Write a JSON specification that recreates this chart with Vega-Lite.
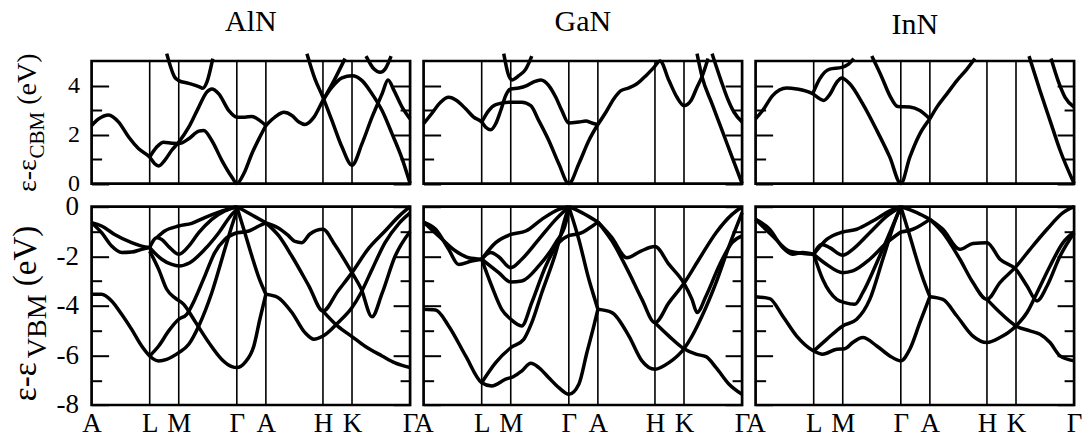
{
"$schema": "https://vega.github.io/schema/vega-lite/v6.json",
"background": "white",
"padding": {"left": 7.6, "top": 6, "right": 5, "bottom": 2},
"config": {
 "view": {"stroke": "black", "strokeWidth": 2.7},
 "axis": {"domain": false, "grid": false, "ticks": true, "tickColor": "black", "tickWidth": 2, "labelFont": "Liberation Serif", "labelColor": "black", "labelFlush": false, "labelOverlap": false, "titleFont": "Liberation Serif", "titleFontWeight": "normal", "titleColor": "black"},
 "title": {"font": "Liberation Serif", "fontSize": 30, "fontWeight": "normal", "color": "black", "anchor": "middle", "frame": "group", "baseline": "alphabetic"},
 "line": {"interpolate": "monotone", "clip": true, "color": "black", "strokeWidth": 3.5},
 "rule": {"color": "black", "strokeWidth": 1.6}
},
"datasets": {
 "sym": [{"x": 58}, {"x": 87}, {"x": 145}, {"x": 174}, {"x": 231}, {"x": 260}],
 "AlN_c": [
  {"b":1,"x":0,"y":2.37},{"b":1,"x":7,"y":2.64},{"b":1,"x":17,"y":2.80},{"b":1,"x":27,"y":2.51},{"b":1,"x":37,"y":1.90},{"b":1,"x":47,"y":1.42},{"b":1,"x":58,"y":1.08},{"b":1,"x":63,"y":0.81},{"b":1,"x":67,"y":0.72},{"b":1,"x":73,"y":0.95},{"b":1,"x":80,"y":1.36},{"b":1,"x":87,"y":1.69},{"b":1,"x":97,"y":2.30},{"b":1,"x":107,"y":3.12},{"b":1,"x":115,"y":3.73},{"b":1,"x":120,"y":3.86},{"b":1,"x":127,"y":3.66},{"b":1,"x":137,"y":2.98},{"b":1,"x":145,"y":2.71},{"b":1,"x":153,"y":2.71},{"b":1,"x":160,"y":2.74},{"b":1,"x":168,"y":2.57},{"b":1,"x":174,"y":2.37},
  {"b":2,"x":58,"y":1.08},{"b":2,"x":65,"y":1.49},{"b":2,"x":72,"y":1.69},{"b":2,"x":80,"y":1.65},{"b":2,"x":87,"y":1.63},{"b":2,"x":97,"y":1.83},{"b":2,"x":107,"y":2.14},{"b":2,"x":112,"y":2.17},{"b":2,"x":120,"y":1.76},{"b":2,"x":130,"y":0.95},{"b":2,"x":140,"y":0.27},{"b":2,"x":145,"y":0},{"b":2,"x":152,"y":0.41},{"b":2,"x":160,"y":1.22},{"b":2,"x":168,"y":1.90},{"b":2,"x":174,"y":2.37},
  {"b":3,"x":75,"y":5.3},{"b":3,"x":83,"y":4.34},{"b":3,"x":87,"y":4.2},{"b":3,"x":97,"y":4.09},{"b":3,"x":107,"y":3.96},{"b":3,"x":111,"y":3.89},{"b":3,"x":115,"y":4.13},{"b":3,"x":121,"y":5.1},
  {"b":4,"x":174,"y":2.37},{"b":4,"x":183,"y":2.71},{"b":4,"x":192,"y":2.91},{"b":4,"x":200,"y":2.78},{"b":4,"x":207,"y":2.51},{"b":4,"x":213,"y":2.41},{"b":4,"x":222,"y":2.71},{"b":4,"x":231,"y":3.39},{"b":4,"x":240,"y":3.93},{"b":4,"x":250,"y":4.31},{"b":4,"x":260,"y":4.40},{"b":4,"x":270,"y":4.20},{"b":4,"x":280,"y":3.66},{"b":4,"x":290,"y":2.98},{"b":4,"x":300,"y":2.03},{"b":4,"x":310,"y":1.02},{"b":4,"x":318,"y":0},
  {"b":5,"x":215,"y":5.3},{"b":5,"x":223,"y":4.27},{"b":5,"x":231,"y":3.52},{"b":5,"x":240,"y":2.57},{"b":5,"x":250,"y":1.49},{"b":5,"x":260,"y":0.75},{"b":5,"x":270,"y":1.63},{"b":5,"x":280,"y":2.71},{"b":5,"x":290,"y":3.66},{"b":5,"x":296,"y":4.23},{"b":5,"x":302,"y":3.79},{"b":5,"x":310,"y":3.12},{"b":5,"x":318,"y":2.64},
  {"b":6,"x":231,"y":3.39},{"b":6,"x":242,"y":4.2},{"b":6,"x":253,"y":5.1},
  {"b":7,"x":274,"y":5.2},{"b":7,"x":282,"y":4.67},{"b":7,"x":288,"y":4.54},{"b":7,"x":293,"y":4.67},{"b":7,"x":299,"y":5.2}
 ],
 "GaN_c": [
  {"b":1,"x":0,"y":2.44},{"b":1,"x":8,"y":2.85},{"b":1,"x":17,"y":3.32},{"b":1,"x":25,"y":3.52},{"b":1,"x":33,"y":3.39},{"b":1,"x":42,"y":3.05},{"b":1,"x":50,"y":2.71},{"b":1,"x":58,"y":2.51},{"b":1,"x":62,"y":2.30},{"b":1,"x":67,"y":2.20},{"b":1,"x":72,"y":2.44},{"b":1,"x":77,"y":2.98},{"b":1,"x":82,"y":3.59},{"b":1,"x":87,"y":3.86},{"b":1,"x":95,"y":3.90},{"b":1,"x":103,"y":4.0},{"b":1,"x":110,"y":4.15},{"b":1,"x":117,"y":4.23},{"b":1,"x":125,"y":4.0},{"b":1,"x":132,"y":3.52},{"b":1,"x":138,"y":2.98},{"b":1,"x":145,"y":2.47},{"b":1,"x":155,"y":2.51},{"b":1,"x":162,"y":2.55},{"b":1,"x":168,"y":2.47},{"b":1,"x":174,"y":2.41},
  {"b":2,"x":58,"y":2.51},{"b":2,"x":65,"y":2.98},{"b":2,"x":72,"y":3.22},{"b":2,"x":85,"y":3.32},{"b":2,"x":98,"y":3.32},{"b":2,"x":107,"y":3.18},{"b":2,"x":115,"y":2.57},{"b":2,"x":125,"y":1.76},{"b":2,"x":135,"y":0.81},{"b":2,"x":145,"y":0},{"b":2,"x":155,"y":0.81},{"b":2,"x":165,"y":1.76},{"b":2,"x":174,"y":2.41},
  {"b":3,"x":80,"y":5.3},{"b":3,"x":85,"y":4.40},{"b":3,"x":88,"y":4.23},{"b":3,"x":95,"y":4.40},{"b":3,"x":102,"y":4.67},{"b":3,"x":108,"y":5.2},
  {"b":4,"x":174,"y":2.41},{"b":4,"x":182,"y":2.91},{"b":4,"x":190,"y":3.46},{"b":4,"x":197,"y":3.79},{"b":4,"x":205,"y":3.90},{"b":4,"x":213,"y":4.07},{"b":4,"x":222,"y":4.40},{"b":4,"x":230,"y":4.74},{"b":4,"x":236,"y":5.0},{"b":4,"x":245,"y":4.20},{"b":4,"x":253,"y":3.52},{"b":4,"x":260,"y":3.18},{"b":4,"x":267,"y":3.39},{"b":4,"x":273,"y":3.93},{"b":4,"x":278,"y":4.36},{"b":4,"x":284,"y":5.1},
  {"b":5,"x":273,"y":5.3},{"b":5,"x":278,"y":4.36},{"b":5,"x":288,"y":3.25},{"b":5,"x":298,"y":2.17},{"b":5,"x":308,"y":1.08},{"b":5,"x":318,"y":0},
  {"b":6,"x":288,"y":5.3},{"b":6,"x":297,"y":4.20},{"b":6,"x":303,"y":3.52},{"b":6,"x":310,"y":2.91},{"b":6,"x":318,"y":2.51}
 ],
 "InN_c": [
  {"b":1,"x":0,"y":2.64},{"b":1,"x":7,"y":2.98},{"b":1,"x":17,"y":3.59},{"b":1,"x":31,"y":3.90},{"b":1,"x":41,"y":3.86},{"b":1,"x":57,"y":3.66},{"b":1,"x":64,"y":3.46},{"b":1,"x":68,"y":3.39},{"b":1,"x":74,"y":3.63},{"b":1,"x":81,"y":4.13},{"b":1,"x":86,"y":4.31},{"b":1,"x":94,"y":4.07},{"b":1,"x":107,"y":3.25},{"b":1,"x":121,"y":2.17},{"b":1,"x":134,"y":1.08},{"b":1,"x":145,"y":0},{"b":1,"x":154,"y":1.08},{"b":1,"x":164,"y":2.03},{"b":1,"x":174,"y":2.64},
  {"b":2,"x":57,"y":3.66},{"b":2,"x":64,"y":4.27},{"b":2,"x":74,"y":4.67},{"b":2,"x":86,"y":4.74},{"b":2,"x":92,"y":4.85},{"b":2,"x":98,"y":5.1},
  {"b":3,"x":116,"y":5.2},{"b":3,"x":126,"y":4.34},{"b":3,"x":134,"y":3.59},{"b":3,"x":142,"y":3.14},{"b":3,"x":154,"y":3.12},{"b":3,"x":164,"y":2.98},{"b":3,"x":174,"y":2.64},
  {"b":4,"x":174,"y":2.64},{"b":4,"x":181,"y":3.12},{"b":4,"x":191,"y":3.66},{"b":4,"x":201,"y":4.20},{"b":4,"x":211,"y":4.67},{"b":4,"x":219,"y":5.1},
  {"b":5,"x":273,"y":5.2},{"b":5,"x":284,"y":3.79},{"b":5,"x":294,"y":2.57},{"b":5,"x":304,"y":1.36},{"b":5,"x":318,"y":0},
  {"b":6,"x":295,"y":5.1},{"b":6,"x":302,"y":4.20},{"b":6,"x":309,"y":3.52},{"b":6,"x":318,"y":3.12}
 ],
 "AlN_v": [
  {"b":1,"x":0,"y":-3.53},{"b":1,"x":10,"y":-3.53},{"b":1,"x":20,"y":-3.80},{"b":1,"x":30,"y":-4.34},{"b":1,"x":40,"y":-4.95},{"b":1,"x":50,"y":-5.62},{"b":1,"x":58,"y":-6.02},{"b":1,"x":67,"y":-6.22},{"b":1,"x":75,"y":-6.16},{"b":1,"x":87,"y":-5.89},{"b":1,"x":97,"y":-5.55},{"b":1,"x":107,"y":-4.81},{"b":1,"x":120,"y":-3.47},{"b":1,"x":133,"y":-1.72},{"b":1,"x":140,"y":-0.78},{"b":1,"x":145,"y":-0.17},
  {"b":2,"x":58,"y":-6.02},{"b":2,"x":67,"y":-5.62},{"b":2,"x":77,"y":-5.01},{"b":2,"x":87,"y":-4.54},{"b":2,"x":95,"y":-4.34},{"b":2,"x":103,"y":-3.74},{"b":2,"x":113,"y":-2.80},{"b":2,"x":123,"y":-1.85},{"b":2,"x":133,"y":-1.32},{"b":2,"x":145,"y":-1.05},
  {"b":3,"x":58,"y":-1.79},{"b":3,"x":67,"y":-2.53},{"b":3,"x":75,"y":-3.33},{"b":3,"x":83,"y":-3.67},{"b":3,"x":92,"y":-3.94},{"b":3,"x":103,"y":-4.61},{"b":3,"x":117,"y":-5.48},{"b":3,"x":130,"y":-6.16},{"b":3,"x":140,"y":-6.45},{"b":3,"x":145,"y":-6.49},{"b":3,"x":153,"y":-6.29},{"b":3,"x":162,"y":-5.62},{"b":3,"x":168,"y":-4.54},{"b":3,"x":174,"y":-3.53},
  {"b":4,"x":58,"y":-1.65},{"b":4,"x":65,"y":-1.25},{"b":4,"x":70,"y":-1.32},{"b":4,"x":78,"y":-1.65},{"b":4,"x":87,"y":-1.92},{"b":4,"x":97,"y":-1.59},{"b":4,"x":107,"y":-1.05},{"b":4,"x":120,"y":-0.51},{"b":4,"x":133,"y":-0.17},{"b":4,"x":145,"y":0},
  {"b":5,"x":65,"y":-1.25},{"b":5,"x":73,"y":-0.98},{"b":5,"x":87,"y":-0.78},{"b":5,"x":100,"y":-0.67},{"b":5,"x":113,"y":-0.44},{"b":5,"x":127,"y":-0.22},{"b":5,"x":145,"y":0},
  {"b":6,"x":58,"y":-1.65},{"b":6,"x":70,"y":-2.12},{"b":6,"x":80,"y":-2.33},{"b":6,"x":87,"y":-2.39},{"b":6,"x":98,"y":-2.26},{"b":6,"x":113,"y":-1.72},{"b":6,"x":127,"y":-1.05},{"b":6,"x":140,"y":-0.31},{"b":6,"x":145,"y":-0.11},
  {"b":7,"x":0,"y":-0.65},{"b":7,"x":10,"y":-0.78},{"b":7,"x":23,"y":-1.12},{"b":7,"x":40,"y":-1.45},{"b":7,"x":50,"y":-1.59},{"b":7,"x":58,"y":-1.65},
  {"b":8,"x":0,"y":-0.65},{"b":8,"x":10,"y":-1.05},{"b":8,"x":20,"y":-1.59},{"b":8,"x":30,"y":-1.85},{"b":8,"x":40,"y":-1.83},{"b":8,"x":50,"y":-1.72},{"b":8,"x":58,"y":-1.65},
  {"b":9,"x":145,"y":0},{"b":9,"x":153,"y":-1.05},{"b":9,"x":160,"y":-1.99},{"b":9,"x":167,"y":-2.86},{"b":9,"x":174,"y":-3.53},
  {"b":10,"x":145,"y":0},{"b":10,"x":153,"y":-0.17},{"b":10,"x":163,"y":-0.40},{"b":10,"x":174,"y":-0.65},
  {"b":11,"x":145,"y":-1.05},{"b":11,"x":157,"y":-0.98},{"b":11,"x":167,"y":-0.78},{"b":11,"x":174,"y":-0.65},
  {"b":12,"x":174,"y":-0.65},{"b":12,"x":186,"y":-0.85},{"b":12,"x":196,"y":-1.15},{"b":12,"x":203,"y":-1.40},{"b":12,"x":210,"y":-1.45},{"b":12,"x":218,"y":-1.10},{"b":12,"x":231,"y":-0.91},{"b":12,"x":243,"y":-1.55},{"b":12,"x":260,"y":-2.66},{"b":12,"x":269,"y":-3.30},{"b":12,"x":280,"y":-4.44},{"b":12,"x":290,"y":-3.50},{"b":12,"x":303,"y":-2.0},{"b":12,"x":318,"y":-1.0},
  {"b":13,"x":174,"y":-0.65},{"b":13,"x":187,"y":-1.18},{"b":13,"x":200,"y":-2.0},{"b":13,"x":217,"y":-3.2},{"b":13,"x":231,"y":-4.21},{"b":13,"x":246,"y":-3.4},{"b":13,"x":260,"y":-2.66},{"b":13,"x":276,"y":-1.71},{"b":13,"x":293,"y":-0.98},{"b":13,"x":307,"y":-0.38},{"b":13,"x":318,"y":0},
  {"b":14,"x":231,"y":-4.21},{"b":14,"x":246,"y":-4.83},{"b":14,"x":260,"y":-5.24},{"b":14,"x":273,"y":-5.63},{"b":14,"x":290,"y":-6.02},{"b":14,"x":303,"y":-6.30},{"b":14,"x":318,"y":-6.49},
  {"b":15,"x":174,"y":-3.53},{"b":15,"x":186,"y":-3.66},{"b":15,"x":200,"y":-4.27},{"b":15,"x":213,"y":-5.08},{"b":15,"x":222,"y":-5.35},{"b":15,"x":231,"y":-5.22},{"b":15,"x":246,"y":-4.68},{"b":15,"x":260,"y":-4.07},{"b":15,"x":269,"y":-3.47},{"b":15,"x":280,"y":-2.53},{"b":15,"x":293,"y":-1.45},{"b":15,"x":307,"y":-0.67},{"b":15,"x":318,"y":-0.25}
 ],
 "GaN_v": [
  {"b":1,"x":0,"y":-4.14},{"b":1,"x":12,"y":-4.17},{"b":1,"x":25,"y":-4.81},{"b":1,"x":42,"y":-6.02},{"b":1,"x":58,"y":-7.10},{"b":1,"x":68,"y":-7.23},{"b":1,"x":82,"y":-6.96},{"b":1,"x":90,"y":-6.85},{"b":1,"x":98,"y":-6.63},{"b":1,"x":107,"y":-6.32},{"b":1,"x":115,"y":-6.49},{"b":1,"x":125,"y":-6.90},{"b":1,"x":135,"y":-7.30},{"b":1,"x":145,"y":-7.57},{"b":1,"x":155,"y":-7.16},{"b":1,"x":163,"y":-5.89},{"b":1,"x":170,"y":-4.81},{"b":1,"x":174,"y":-4.14},
  {"b":2,"x":58,"y":-7.10},{"b":2,"x":72,"y":-6.29},{"b":2,"x":87,"y":-5.69},{"b":2,"x":100,"y":-5.35},{"b":2,"x":108,"y":-4.68},{"b":2,"x":118,"y":-3.47},{"b":2,"x":132,"y":-1.85},{"b":2,"x":142,"y":-0.38},{"b":2,"x":145,"y":0},
  {"b":3,"x":58,"y":-2.12},{"b":3,"x":68,"y":-3.20},{"b":3,"x":78,"y":-4.14},{"b":3,"x":87,"y":-4.54},{"b":3,"x":98,"y":-4.81},{"b":3,"x":108,"y":-3.87},{"b":3,"x":122,"y":-2.39},{"b":3,"x":135,"y":-1.45},{"b":3,"x":145,"y":-1.16},
  {"b":4,"x":58,"y":-2.12},{"b":4,"x":75,"y":-2.66},{"b":4,"x":87,"y":-3.04},{"b":4,"x":98,"y":-3.0},{"b":4,"x":115,"y":-2.39},{"b":4,"x":132,"y":-1.45},{"b":4,"x":142,"y":-0.65},{"b":4,"x":145,"y":-0.11},
  {"b":5,"x":58,"y":-2.12},{"b":5,"x":67,"y":-1.85},{"b":5,"x":75,"y":-2.02},{"b":5,"x":87,"y":-2.46},{"b":5,"x":98,"y":-2.12},{"b":5,"x":115,"y":-1.32},{"b":5,"x":132,"y":-0.51},{"b":5,"x":145,"y":0},
  {"b":6,"x":58,"y":-2.12},{"b":6,"x":72,"y":-1.45},{"b":6,"x":87,"y":-1.12},{"b":6,"x":102,"y":-0.98},{"b":6,"x":118,"y":-0.51},{"b":6,"x":135,"y":-0.11},{"b":6,"x":145,"y":0},
  {"b":7,"x":0,"y":-0.62},{"b":7,"x":12,"y":-0.91},{"b":7,"x":25,"y":-1.72},{"b":7,"x":35,"y":-2.33},{"b":7,"x":48,"y":-2.19},{"b":7,"x":58,"y":-2.12},
  {"b":8,"x":0,"y":-0.62},{"b":8,"x":15,"y":-1.18},{"b":8,"x":32,"y":-1.79},{"b":8,"x":45,"y":-2.06},{"b":8,"x":58,"y":-2.12},
  {"b":9,"x":145,"y":0},{"b":9,"x":155,"y":-1.32},{"b":9,"x":165,"y":-2.93},{"b":9,"x":172,"y":-3.87},{"b":9,"x":174,"y":-4.14},
  {"b":10,"x":145,"y":0},{"b":10,"x":158,"y":-0.24},{"b":10,"x":174,"y":-0.62},
  {"b":11,"x":145,"y":-1.16},{"b":11,"x":158,"y":-1.05},{"b":11,"x":166,"y":-0.85},{"b":11,"x":174,"y":-0.62},
  {"b":12,"x":174,"y":-0.62},{"b":12,"x":188,"y":-1.25},{"b":12,"x":203,"y":-2.06},{"b":12,"x":217,"y":-1.79},{"b":12,"x":231,"y":-1.61},{"b":12,"x":245,"y":-2.33},{"b":12,"x":260,"y":-3.09},{"b":12,"x":268,"y":-3.74},{"b":12,"x":273,"y":-4.27},{"b":12,"x":282,"y":-3.60},{"b":12,"x":295,"y":-2.39},{"b":12,"x":308,"y":-1.45},{"b":12,"x":318,"y":-1.18},
  {"b":13,"x":174,"y":-0.62},{"b":13,"x":188,"y":-1.38},{"b":13,"x":205,"y":-2.66},{"b":13,"x":218,"y":-3.74},{"b":13,"x":231,"y":-4.68},{"b":13,"x":245,"y":-3.87},{"b":13,"x":260,"y":-3.09},{"b":13,"x":275,"y":-2.12},{"b":13,"x":292,"y":-1.05},{"b":13,"x":308,"y":-0.31},{"b":13,"x":318,"y":0},
  {"b":14,"x":231,"y":-4.68},{"b":14,"x":245,"y":-5.22},{"b":14,"x":260,"y":-5.73},{"b":14,"x":272,"y":-5.95},{"b":14,"x":282,"y":-6.05},{"b":14,"x":292,"y":-6.49},{"b":14,"x":305,"y":-7.16},{"b":14,"x":318,"y":-7.57},
  {"b":15,"x":174,"y":-4.14},{"b":15,"x":188,"y":-4.27},{"b":15,"x":205,"y":-5.22},{"b":15,"x":218,"y":-6.22},{"b":15,"x":231,"y":-6.56},{"b":15,"x":245,"y":-6.29},{"b":15,"x":260,"y":-5.73},{"b":15,"x":268,"y":-5.22},{"b":15,"x":278,"y":-4.41},{"b":15,"x":292,"y":-3.06},{"b":15,"x":305,"y":-1.59},{"b":15,"x":318,"y":-0.24}
 ],
 "InN_v": [
  {"b":1,"x":0,"y":-3.63},{"b":1,"x":14,"y":-3.71},{"b":1,"x":27,"y":-4.41},{"b":1,"x":41,"y":-5.22},{"b":1,"x":58,"y":-5.82},{"b":1,"x":67,"y":-5.95},{"b":1,"x":81,"y":-5.75},{"b":1,"x":89,"y":-5.73},{"b":1,"x":97,"y":-5.48},{"b":1,"x":107,"y":-5.28},{"b":1,"x":121,"y":-5.62},{"b":1,"x":134,"y":-6.02},{"b":1,"x":145,"y":-6.22},{"b":1,"x":154,"y":-5.75},{"b":1,"x":164,"y":-4.68},{"b":1,"x":174,"y":-3.63},
  {"b":2,"x":58,"y":-5.82},{"b":2,"x":71,"y":-5.35},{"b":2,"x":87,"y":-4.81},{"b":2,"x":101,"y":-4.54},{"b":2,"x":114,"y":-3.74},{"b":2,"x":127,"y":-2.12},{"b":2,"x":141,"y":-0.38},{"b":2,"x":145,"y":0},
  {"b":3,"x":58,"y":-1.92},{"b":3,"x":67,"y":-2.93},{"b":3,"x":81,"y":-3.74},{"b":3,"x":89,"y":-3.87},{"b":3,"x":99,"y":-3.94},{"b":3,"x":107,"y":-3.47},{"b":3,"x":121,"y":-2.26},{"b":3,"x":134,"y":-1.05},{"b":3,"x":145,"y":0},
  {"b":4,"x":58,"y":-1.92},{"b":4,"x":71,"y":-2.33},{"b":4,"x":87,"y":-2.66},{"b":4,"x":97,"y":-2.59},{"b":4,"x":114,"y":-2.12},{"b":4,"x":131,"y":-1.45},{"b":4,"x":145,"y":-1.02},
  {"b":5,"x":58,"y":-1.92},{"b":5,"x":66,"y":-1.52},{"b":5,"x":74,"y":-1.65},{"b":5,"x":87,"y":-1.96},{"b":5,"x":97,"y":-1.72},{"b":5,"x":114,"y":-1.05},{"b":5,"x":131,"y":-0.38},{"b":5,"x":145,"y":0},
  {"b":6,"x":58,"y":-1.92},{"b":6,"x":71,"y":-1.32},{"b":6,"x":87,"y":-1.02},{"b":6,"x":101,"y":-0.91},{"b":6,"x":117,"y":-0.58},{"b":6,"x":134,"y":-0.17},{"b":6,"x":145,"y":0},
  {"b":7,"x":0,"y":-0.51},{"b":7,"x":14,"y":-0.91},{"b":7,"x":27,"y":-1.65},{"b":7,"x":37,"y":-1.92},{"b":7,"x":47,"y":-1.85},{"b":7,"x":58,"y":-1.92},
  {"b":8,"x":0,"y":-0.51},{"b":8,"x":17,"y":-1.18},{"b":8,"x":34,"y":-1.79},{"b":8,"x":58,"y":-1.92},
  {"b":9,"x":145,"y":0},{"b":9,"x":154,"y":-1.18},{"b":9,"x":164,"y":-2.53},{"b":9,"x":171,"y":-3.33},{"b":9,"x":174,"y":-3.63},
  {"b":10,"x":145,"y":0},{"b":10,"x":161,"y":-0.24},{"b":10,"x":174,"y":-0.51},
  {"b":11,"x":145,"y":-1.02},{"b":11,"x":157,"y":-0.91},{"b":11,"x":174,"y":-0.51},
  {"b":12,"x":174,"y":-0.51},{"b":12,"x":187,"y":-0.91},{"b":12,"x":204,"y":-1.72},{"b":12,"x":217,"y":-1.48},{"b":12,"x":231,"y":-1.45},{"b":12,"x":244,"y":-2.12},{"b":12,"x":260,"y":-2.53},{"b":12,"x":271,"y":-3.20},{"b":12,"x":281,"y":-3.80},{"b":12,"x":291,"y":-3.20},{"b":12,"x":304,"y":-1.99},{"b":12,"x":318,"y":-1.05},
  {"b":13,"x":174,"y":-0.51},{"b":13,"x":187,"y":-1.05},{"b":13,"x":204,"y":-2.12},{"b":13,"x":217,"y":-3.06},{"b":13,"x":231,"y":-3.74},{"b":13,"x":244,"y":-3.06},{"b":13,"x":260,"y":-2.42},{"b":13,"x":274,"y":-1.72},{"b":13,"x":291,"y":-0.91},{"b":13,"x":307,"y":-0.24},{"b":13,"x":318,"y":0},
  {"b":14,"x":231,"y":-3.74},{"b":14,"x":244,"y":-4.27},{"b":14,"x":260,"y":-4.81},{"b":14,"x":274,"y":-5.01},{"b":14,"x":284,"y":-5.15},{"b":14,"x":294,"y":-5.48},{"b":14,"x":304,"y":-6.02},{"b":14,"x":318,"y":-6.22},
  {"b":15,"x":174,"y":-3.63},{"b":15,"x":187,"y":-3.74},{"b":15,"x":201,"y":-4.41},{"b":15,"x":217,"y":-5.22},{"b":15,"x":231,"y":-5.48},{"b":15,"x":244,"y":-5.28},{"b":15,"x":260,"y":-4.81},{"b":15,"x":271,"y":-4.27},{"b":15,"x":281,"y":-3.47},{"b":15,"x":294,"y":-2.39},{"b":15,"x":307,"y":-1.45},{"b":15,"x":318,"y":-1.02}
 ]
},
"spacing": -6.3,
"vconcat": [
 {"hconcat": [
  {"width": 318.5, "height": 122.6, "title": {"text": "AlN", "offset": 9.2},
   "encoding": {"x": {"field": "x", "type": "quantitative", "scale": {"domain": [0, 318], "nice": false, "zero": false}, "axis": null}},
   "layer": [
    {"data": {"name": "AlN_c"}, "transform": [{"filter": "datum.b % 2 == 1"}], "mark": "line", "encoding": {"y": {"field": "y", "type": "quantitative", "scale": {"domain": [0, 5], "nice": false}, "axis": {"orient": "left", "values": [0, 2, 4], "tickSize": -17, "labelFontSize": 24, "labelPadding": 29, "title": "ε-ε", "titleFontSize": 28, "titleAngle": 270, "titleAlign": "left", "titleBaseline": "alphabetic", "titleX": -56, "titleY": 130.5}}, "detail": {"field": "b", "type": "nominal"}}},
    {"data": {"name": "sym"}, "transform": [{"filter": "datum.x < 150"}], "mark": "rule", "encoding": {"y": {"datum": 0, "type": "quantitative", "scale": {"domain": [0, 5], "nice": false}, "axis": {"orient": "left", "values": [1, 3], "tickSize": -10, "labels": false, "title": "CBM", "titleFontSize": 21, "titleAngle": 270, "titleAlign": "left", "titleBaseline": "alphabetic", "titleX": -48, "titleY": 96.9}}, "y2": {"datum": 5}}},
    {"data": {"name": "AlN_c"}, "transform": [{"filter": "datum.b % 2 == 0"}], "mark": "line", "encoding": {"y": {"field": "y", "type": "quantitative", "scale": {"domain": [0, 5], "nice": false}, "axis": {"orient": "right", "values": [0, 2, 4], "tickSize": -17, "labels": false, "title": "(eV)", "titleFontSize": 28, "titleAngle": 270, "titleAlign": "left", "titleBaseline": "alphabetic", "titleX": -374.8, "titleY": 43.3}}, "detail": {"field": "b", "type": "nominal"}}},
    {"data": {"name": "sym"}, "transform": [{"filter": "datum.x > 150"}], "mark": "rule", "encoding": {"y": {"datum": 0, "type": "quantitative", "scale": {"domain": [0, 5], "nice": false}, "axis": {"orient": "right", "values": [1, 3], "tickSize": -10, "labels": false, "title": null}}, "y2": {"datum": 5}}}
   ],
   "resolve": {"axis": {"y": "independent"}}
  },
  {"width": 318.5, "height": 122.6, "title": {"text": "GaN", "offset": 9.2},
   "encoding": {"x": {"field": "x", "type": "quantitative", "scale": {"domain": [0, 318], "nice": false, "zero": false}, "axis": null}},
   "layer": [
    {"data": {"name": "GaN_c"}, "transform": [{"filter": "datum.b % 2 == 1"}], "mark": "line", "encoding": {"y": {"field": "y", "type": "quantitative", "scale": {"domain": [0, 5], "nice": false}, "axis": {"orient": "left", "values": [0, 2, 4], "tickSize": -17, "labels": false, "title": null}}, "detail": {"field": "b", "type": "nominal"}}},
    {"data": {"name": "sym"}, "transform": [{"filter": "datum.x < 150"}], "mark": "rule", "encoding": {"y": {"datum": 0, "type": "quantitative", "scale": {"domain": [0, 5], "nice": false}, "axis": {"orient": "left", "values": [1, 3], "tickSize": -10, "labels": false, "title": null}}, "y2": {"datum": 5}}},
    {"data": {"name": "GaN_c"}, "transform": [{"filter": "datum.b % 2 == 0"}], "mark": "line", "encoding": {"y": {"field": "y", "type": "quantitative", "scale": {"domain": [0, 5], "nice": false}, "axis": {"orient": "right", "values": [0, 2, 4], "tickSize": -17, "labels": false, "title": null}}, "detail": {"field": "b", "type": "nominal"}}},
    {"data": {"name": "sym"}, "transform": [{"filter": "datum.x > 150"}], "mark": "rule", "encoding": {"y": {"datum": 0, "type": "quantitative", "scale": {"domain": [0, 5], "nice": false}, "axis": {"orient": "right", "values": [1, 3], "tickSize": -10, "labels": false, "title": null}}, "y2": {"datum": 5}}}
   ],
   "resolve": {"axis": {"y": "independent"}}
  },
  {"width": 318.5, "height": 122.6, "title": {"text": "InN", "offset": 9.2},
   "encoding": {"x": {"field": "x", "type": "quantitative", "scale": {"domain": [0, 318], "nice": false, "zero": false}, "axis": null}},
   "layer": [
    {"data": {"name": "InN_c"}, "transform": [{"filter": "datum.b % 2 == 1"}], "mark": "line", "encoding": {"y": {"field": "y", "type": "quantitative", "scale": {"domain": [0, 5], "nice": false}, "axis": {"orient": "left", "values": [0, 2, 4], "tickSize": -17, "labels": false, "title": null}}, "detail": {"field": "b", "type": "nominal"}}},
    {"data": {"name": "sym"}, "transform": [{"filter": "datum.x < 150"}], "mark": "rule", "encoding": {"y": {"datum": 0, "type": "quantitative", "scale": {"domain": [0, 5], "nice": false}, "axis": {"orient": "left", "values": [1, 3], "tickSize": -10, "labels": false, "title": null}}, "y2": {"datum": 5}}},
    {"data": {"name": "InN_c"}, "transform": [{"filter": "datum.b % 2 == 0"}], "mark": "line", "encoding": {"y": {"field": "y", "type": "quantitative", "scale": {"domain": [0, 5], "nice": false}, "axis": {"orient": "right", "values": [0, 2, 4], "tickSize": -17, "labels": false, "title": null}}, "detail": {"field": "b", "type": "nominal"}}},
    {"data": {"name": "sym"}, "transform": [{"filter": "datum.x > 150"}], "mark": "rule", "encoding": {"y": {"datum": 0, "type": "quantitative", "scale": {"domain": [0, 5], "nice": false}, "axis": {"orient": "right", "values": [1, 3], "tickSize": -10, "labels": false, "title": null}}, "y2": {"datum": 5}}}
   ],
   "resolve": {"axis": {"y": "independent"}}
  }
 ], "spacing": 13, "bounds": "flush"},
 {"hconcat": [
  {"width": 318.5, "height": 198.3,
   "encoding": {"x": {"field": "x", "type": "quantitative", "scale": {"domain": [0, 318], "nice": false, "zero": false}, "axis": {"orient": "bottom", "values": [0, 58, 87, 145, 174, 231, 260, 318], "labelExpr": "datum.value == 0 ? 'A' : datum.value == 58 ? 'L' : datum.value == 87 ? 'M' : datum.value == 145 ? 'Γ' : datum.value == 174 ? 'A' : datum.value == 231 ? 'H' : datum.value == 260 ? 'K' : 'Γ'", "ticks": false, "labelFontSize": 27, "labelPadding": 6, "labelAngle": 0, "title": null}}},
   "layer": [
    {"data": {"name": "AlN_v"}, "transform": [{"filter": "datum.b % 2 == 1"}], "mark": "line", "encoding": {"y": {"field": "y", "type": "quantitative", "scale": {"domain": [-8, 0], "nice": false}, "axis": {"orient": "left", "values": [-8, -6, -4, -2, 0], "labelExpr": "datum.value < 0 ? '-' + (-datum.value) : '0'", "tickSize": -17, "labelFontSize": 27, "labelPadding": 30, "title": "ε-ε", "titleFontSize": 33, "titleAngle": 270, "titleAlign": "left", "titleBaseline": "alphabetic", "titleX": -56, "titleY": 194}}, "detail": {"field": "b", "type": "nominal"}}},
    {"data": {"name": "sym"}, "transform": [{"filter": "datum.x < 150"}], "mark": "rule", "encoding": {"y": {"datum": -8, "type": "quantitative", "scale": {"domain": [-8, 0], "nice": false}, "axis": {"orient": "left", "values": [-7, -5, -3, -1], "tickSize": -10, "labels": false, "title": "VBM", "titleFontSize": 28, "titleAngle": 270, "titleAlign": "left", "titleBaseline": "alphabetic", "titleX": -46.5, "titleY": 151}}, "y2": {"datum": 0}}},
    {"data": {"name": "AlN_v"}, "transform": [{"filter": "datum.b % 2 == 0"}], "mark": "line", "encoding": {"y": {"field": "y", "type": "quantitative", "scale": {"domain": [-8, 0], "nice": false}, "axis": {"orient": "right", "values": [-8, -6, -4, -2, 0], "tickSize": -17, "labels": false, "title": "(eV)", "titleFontSize": 33, "titleAngle": 270, "titleAlign": "left", "titleBaseline": "alphabetic", "titleX": -374.8, "titleY": 79}}, "detail": {"field": "b", "type": "nominal"}}},
    {"data": {"name": "sym"}, "transform": [{"filter": "datum.x > 150"}], "mark": "rule", "encoding": {"y": {"datum": -8, "type": "quantitative", "scale": {"domain": [-8, 0], "nice": false}, "axis": {"orient": "right", "values": [-7, -5, -3, -1], "tickSize": -10, "labels": false, "title": null}}, "y2": {"datum": 0}}}
   ],
   "resolve": {"axis": {"y": "independent"}}
  },
  {"width": 318.5, "height": 198.3,
   "encoding": {"x": {"field": "x", "type": "quantitative", "scale": {"domain": [0, 318], "nice": false, "zero": false}, "axis": {"orient": "bottom", "values": [0, 58, 87, 145, 174, 231, 260, 318], "labelExpr": "datum.value == 0 ? 'A' : datum.value == 58 ? 'L' : datum.value == 87 ? 'M' : datum.value == 145 ? 'Γ' : datum.value == 174 ? 'A' : datum.value == 231 ? 'H' : datum.value == 260 ? 'K' : 'Γ'", "ticks": false, "labelFontSize": 27, "labelPadding": 6, "labelAngle": 0, "title": null}}},
   "layer": [
    {"data": {"name": "GaN_v"}, "transform": [{"filter": "datum.b % 2 == 1"}], "mark": "line", "encoding": {"y": {"field": "y", "type": "quantitative", "scale": {"domain": [-8, 0], "nice": false}, "axis": {"orient": "left", "values": [-8, -6, -4, -2, 0], "tickSize": -17, "labels": false, "title": null}}, "detail": {"field": "b", "type": "nominal"}}},
    {"data": {"name": "sym"}, "transform": [{"filter": "datum.x < 150"}], "mark": "rule", "encoding": {"y": {"datum": -8, "type": "quantitative", "scale": {"domain": [-8, 0], "nice": false}, "axis": {"orient": "left", "values": [-7, -5, -3, -1], "tickSize": -10, "labels": false, "title": null}}, "y2": {"datum": 0}}},
    {"data": {"name": "GaN_v"}, "transform": [{"filter": "datum.b % 2 == 0"}], "mark": "line", "encoding": {"y": {"field": "y", "type": "quantitative", "scale": {"domain": [-8, 0], "nice": false}, "axis": {"orient": "right", "values": [-8, -6, -4, -2, 0], "tickSize": -17, "labels": false, "title": null}}, "detail": {"field": "b", "type": "nominal"}}},
    {"data": {"name": "sym"}, "transform": [{"filter": "datum.x > 150"}], "mark": "rule", "encoding": {"y": {"datum": -8, "type": "quantitative", "scale": {"domain": [-8, 0], "nice": false}, "axis": {"orient": "right", "values": [-7, -5, -3, -1], "tickSize": -10, "labels": false, "title": null}}, "y2": {"datum": 0}}}
   ],
   "resolve": {"axis": {"y": "independent"}}
  },
  {"width": 318.5, "height": 198.3,
   "encoding": {"x": {"field": "x", "type": "quantitative", "scale": {"domain": [0, 318], "nice": false, "zero": false}, "axis": {"orient": "bottom", "values": [0, 58, 87, 145, 174, 231, 260, 318], "labelExpr": "datum.value == 0 ? 'A' : datum.value == 58 ? 'L' : datum.value == 87 ? 'M' : datum.value == 145 ? 'Γ' : datum.value == 174 ? 'A' : datum.value == 231 ? 'H' : datum.value == 260 ? 'K' : 'Γ'", "ticks": false, "labelFontSize": 27, "labelPadding": 6, "labelAngle": 0, "title": null}}},
   "layer": [
    {"data": {"name": "InN_v"}, "transform": [{"filter": "datum.b % 2 == 1"}], "mark": "line", "encoding": {"y": {"field": "y", "type": "quantitative", "scale": {"domain": [-8, 0], "nice": false}, "axis": {"orient": "left", "values": [-8, -6, -4, -2, 0], "tickSize": -17, "labels": false, "title": null}}, "detail": {"field": "b", "type": "nominal"}}},
    {"data": {"name": "sym"}, "transform": [{"filter": "datum.x < 150"}], "mark": "rule", "encoding": {"y": {"datum": -8, "type": "quantitative", "scale": {"domain": [-8, 0], "nice": false}, "axis": {"orient": "left", "values": [-7, -5, -3, -1], "tickSize": -10, "labels": false, "title": null}}, "y2": {"datum": 0}}},
    {"data": {"name": "InN_v"}, "transform": [{"filter": "datum.b % 2 == 0"}], "mark": "line", "encoding": {"y": {"field": "y", "type": "quantitative", "scale": {"domain": [-8, 0], "nice": false}, "axis": {"orient": "right", "values": [-8, -6, -4, -2, 0], "tickSize": -17, "labels": false, "title": null}}, "detail": {"field": "b", "type": "nominal"}}},
    {"data": {"name": "sym"}, "transform": [{"filter": "datum.x > 150"}], "mark": "rule", "encoding": {"y": {"datum": -8, "type": "quantitative", "scale": {"domain": [-8, 0], "nice": false}, "axis": {"orient": "right", "values": [-7, -5, -3, -1], "tickSize": -10, "labels": false, "title": null}}, "y2": {"datum": 0}}}
   ],
   "resolve": {"axis": {"y": "independent"}}
  }
 ], "spacing": 13, "bounds": "flush"}
]
}
